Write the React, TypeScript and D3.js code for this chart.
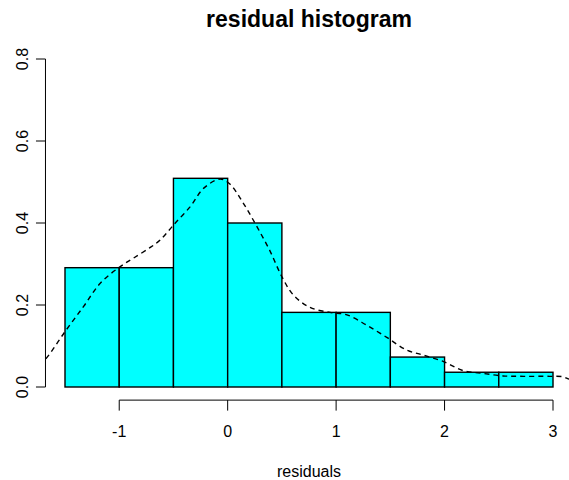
import React from "react";
import * as d3 from "d3";

// Histogram bins (left/right edges) and their densities
const binStarts = [-1.5, -1, -0.5, 0, 0.5, 1, 1.5, 2, 2.5];
const binEnds = [-1, -0.5, 0, 0.5, 1, 1.5, 2, 2.5, 3];
const binDensity = [0.291, 0.291, 0.509, 0.4, 0.182, 0.182, 0.073, 0.036, 0.036];

// Kernel density estimate of the residuals
const kdeX = [
  -1.8, -1.68, -1.5, -1.33, -1.175, -1.0, -0.87, -0.71, -0.62, -0.5, -0.345, -0.22, -0.07,
  0.02, 0.145, 0.27, 0.39, 0.5, 0.607, 0.76, 0.944, 1.1, 1.28, 1.467, 1.65, 1.8, 1.99,
  2.17, 2.36, 2.54, 2.73, 2.97, 3.09, 3.14, 3.2,
];
const kdeY = [
  0.04, 0.068, 0.135, 0.196, 0.253, 0.292, 0.314, 0.341, 0.359, 0.395, 0.44, 0.485, 0.507,
  0.495, 0.448, 0.391, 0.332, 0.269, 0.224, 0.194, 0.182, 0.176, 0.151, 0.121, 0.09, 0.078,
  0.062, 0.04, 0.033, 0.027, 0.026, 0.026, 0.025, 0.02, 0.017,
];

const xTicks = [-1, 0, 1, 2, 3];
const yTicks = [0, 0.2, 0.4, 0.6, 0.8];

const W = 569;
const H = 480;
const FONT = "'Liberation Sans', Arial, Helvetica, sans-serif";

export default function App() {
  const x = d3.scaleLinear().domain([-1.5, 3]).range([65, 553]);
  const y = d3.scaleLinear().domain([0, 0.8]).range([387, 59]);

  // plotting region (axis ranges padded by 4%)
  const left = x(-1.68);
  const right = x(3.18);
  const top = y(0.832);
  const bottom = y(-0.032);

  const line = d3
    .line<number>()
    .x((_, i) => x(kdeX[i]))
    .y((d) => y(d))
    .curve(d3.curveCatmullRom);

  return (
    <svg
      width={W}
      height={H}
      style={{ position: "absolute", left: 0, top: 0, background: "#fff" }}
      fontFamily={FONT}
    >
      <defs>
        <clipPath id="plotArea">
          <rect x={left} y={top} width={right - left} height={bottom - top} />
        </clipPath>
      </defs>

      <text x={(left + right) / 2} y={26.7} textAnchor="middle" fontSize={23} fontWeight="bold">
        residual histogram
      </text>

      {binDensity.map((d, i) => (
        <rect
          key={i}
          x={x(binStarts[i])}
          y={y(d)}
          width={x(binEnds[i]) - x(binStarts[i])}
          height={y(0) - y(d)}
          fill="#00ffff"
          stroke="#000"
          strokeWidth={1.4}
        />
      ))}

      <path
        d={line(kdeY) || ""}
        fill="none"
        stroke="#000"
        strokeWidth={1.4}
        strokeDasharray="5 4"
        clipPath="url(#plotArea)"
      />

      {/* x axis */}
      <g stroke="#000" strokeWidth={1}>
        <line x1={x(xTicks[0])} x2={x(xTicks[xTicks.length - 1])} y1={bottom} y2={bottom} />
        {xTicks.map((t) => (
          <line key={t} x1={x(t)} x2={x(t)} y1={bottom} y2={bottom + 10.5} />
        ))}
      </g>
      {xTicks.map((t) => (
        <text key={t} x={x(t)} y={437.3} textAnchor="middle" fontSize={16}>
          {t < 0 ? `-${Math.abs(t)}` : t}
        </text>
      ))}
      <text x={(left + right) / 2} y={476.7} textAnchor="middle" fontSize={16}>
        residuals
      </text>

      {/* y axis */}
      <g stroke="#000" strokeWidth={1}>
        <line x1={left} x2={left} y1={y(yTicks[0])} y2={y(yTicks[yTicks.length - 1])} />
        {yTicks.map((t) => (
          <line key={t} x1={left} x2={left - 9.5} y1={y(t)} y2={y(t)} />
        ))}
      </g>
      {yTicks.map((t) => (
        <text
          key={t}
          transform={`translate(27.7,${y(t)}) rotate(-90)`}
          textAnchor="middle"
          fontSize={16}
        >
          {t.toFixed(1)}
        </text>
      ))}
    </svg>
  );
}
